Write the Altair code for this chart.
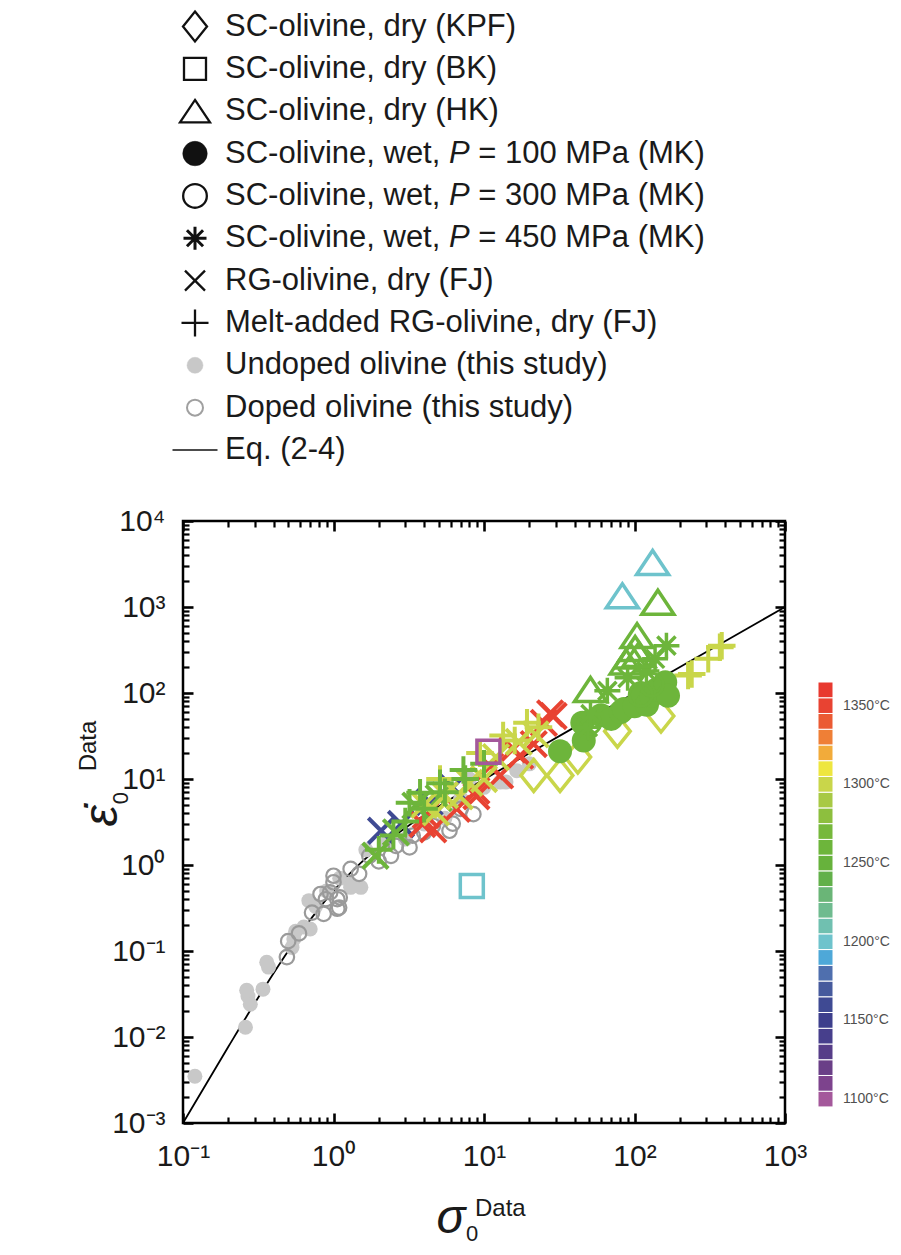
import altair as alt
import pandas as pd

# ---------------- data ----------------
# Eq. (2-4) curve
eq_sigma = [0.1, 0.2, 0.3, 0.5, 0.7, 1.0, 1.5, 2.0, 3.0, 5.0, 10.0, 20.0, 50.0, 100.0, 1000.0]
eq_rate = [0.001, 0.0077, 0.0248, 0.10, 0.23, 0.50, 1.04, 1.6, 2.7, 4.8, 9.9, 19.95, 49.98, 100.0, 1000.0]

# Undoped olivine (this study), filled grey
undoped_x = [0.12, 0.26, 0.27, 0.28, 0.265, 0.34, 0.36, 0.37, 0.53, 0.545, 0.56, 0.635, 0.70, 0.686,
             0.76, 0.9, 1.1, 1.3, 1.3, 1.52, 1.64, 2.25, 3.0, 4.0, 5.5, 7.0, 8.0, 10.0, 12.8, 14.0, 16.5, 20.0]
undoped_y = [0.0035, 0.013, 0.030, 0.024, 0.035, 0.036, 0.074, 0.065, 0.11, 0.138, 0.17, 0.19, 0.18, 0.385,
             0.33, 0.5, 0.7, 0.6, 0.55, 0.55, 1.5, 1.8, 2.0, 3.0, 3.5, 6.0, 10.0, 8.0, 9.2, 9.2, 12.5, 15.0]

# Doped olivine (this study), open grey
doped_x = [0.49, 0.5, 0.59, 0.72, 0.86, 0.82, 1.06, 1.1, 0.95, 1.0, 0.89, 1.06, 1.0, 1.09, 1.48, 1.3,
           1.73, 2.0, 2.41, 2.6, 3.2, 3.36, 4.0, 4.58, 5.9, 6.2, 7.0, 8.5]
doped_y = [0.085, 0.13, 0.16, 0.28, 0.27, 0.46, 0.31, 0.42, 0.48, 0.63, 0.40, 0.40, 0.75, 0.32, 0.79, 0.9,
           1.28, 1.1, 1.28, 1.67, 1.6, 2.2, 2.4, 2.86, 2.5, 3.03, 4.5, 3.9]

# RG-olivine, dry (FJ)  x-crosses
fj_x = [2.07, 2.81, 4.35, 6.2,
        3.9, 4.6, 4.1, 6.6, 8.9, 8.9, 11.0, 12.8, 15.5, 17.4, 21.4, 25.0, 27.5, 29.0,
        1.9, 2.6, 3.5, 5.0,
        4.8, 6.9, 10.0, 4.0, 5.5, 8.0, 12.0, 17.0, 22.0]
fj_y = [2.5, 3.0, 5.4, 8.0,
        3.0, 2.6, 3.8, 4.5, 6.3, 7.3, 14.0, 11.0, 22.0, 18.7, 25.5, 45.0, 58.0, 54.0,
        1.28, 2.4, 4.9, 6.0,
        4.1, 6.3, 10.0, 5.0, 6.5, 9.0, 18.0, 27.0, 33.0]
fj_t = [1160, 1160, 1160, 1160,
        1350, 1350, 1350, 1350, 1350, 1350, 1350, 1350, 1350, 1350, 1350, 1350, 1350, 1350,
        1260, 1260, 1260, 1260,
        1300, 1300, 1300, 1300, 1300, 1300, 1300, 1300, 1300]

# Melt-added RG-olivine, dry (FJ)  plus signs
fjm_x = [5.1, 9.4, 13.4, 16.0, 19.3, 23.0, 227.0, 240.0, 309.0, 369.0, 380.0,
         2.0, 2.5, 3.0, 4.0, 5.5, 7.5, 10.0, 3.76, 5.1, 7.3, 3.2]
fjm_y = [10.0, 20.0, 32.0, 28.0, 45.0, 40.0, 160.0, 166.0, 250.0, 340.0, 355.0,
         1.5, 2.2, 3.2, 4.5, 7.0, 10.0, 15.0, 6.9, 8.9, 12.7, 5.3]
fjm_t = [1300, 1300, 1300, 1300, 1300, 1300, 1300, 1300, 1300, 1300, 1300,
         1260, 1260, 1260, 1260, 1260, 1260, 1260, 1260, 1260, 1260, 1260]

# SC-olivine, dry (KPF) diamonds
kpf_x = [21.4, 32.0, 42.0, 77.0, 150.0]
kpf_y = [11.0, 11.0, 18.0, 36.0, 54.0]
kpf_t = [1300, 1300, 1300, 1300, 1300]

# SC-olivine, dry (BK) squares
bk_x = [8.3, 10.7]
bk_y = [0.57, 20.8]
bk_t = [1200, 1100]

# SC-olivine, dry (HK) triangles
hk_x = [132.0, 83.0, 143.0, 104.0, 101.0, 94.0, 107.0, 51.0, 88.0]
hk_y = [3300.0, 1350.0, 1135.0, 465.0, 330.0, 270.0, 280.0, 110.0, 230.0]
hk_t = [1200, 1200, 1260, 1260, 1260, 1260, 1260, 1260, 1260]

# SC-olivine, wet, P = 100 MPa (MK) filled circles
mk1_x = [32.0, 46.0, 45.0, 60.0, 70.0, 81.0, 85.0, 100.0, 110.0, 121.0, 129.0, 140.0, 160.0, 167.0]
mk1_y = [21.0, 28.0, 45.0, 55.0, 50.0, 60.0, 65.0, 70.0, 100.0, 73.0, 93.0, 110.0, 133.0, 93.0]
mk1_t = [1260] * 14

# SC-olivine, wet, P = 300 MPa (MK) open circles
mk3_x = [50.0, 110.0, 130.0]
mk3_y = [45.0, 95.0, 125.0]
mk3_t = [1260, 1260, 1260]

# SC-olivine, wet, P = 450 MPa (MK) asterisks
mk4_x = [49.0, 51.0, 66.0, 90.0, 120.0, 137.0, 163.0]
mk4_y = [40.0, 57.0, 106.0, 150.0, 180.0, 250.0, 355.0]
mk4_t = [1260] * 7

# temperature colour bar (bottom to top)
temps = [1100, 1110, 1120, 1130, 1140, 1150, 1160, 1170, 1180, 1190, 1200, 1210, 1220, 1230,
         1240, 1250, 1260, 1270, 1280, 1290, 1300, 1310, 1320, 1330, 1340, 1350, 1360]
temp_colors = ["#a4589b", "#7d438d", "#6a3f87", "#563d88", "#473f8c", "#3d3f8c", "#3f4a93",
               "#465a9d", "#4f6fae", "#4ea8d8", "#6ec3cc", "#70c0b0", "#6fbb8f", "#6ab577",
               "#62b04a", "#67b23c", "#6db53b", "#76b83b", "#8dbf3e", "#a8c944", "#c9d64a",
               "#eee63f", "#f2ab3a", "#ef7f36", "#eb5a33", "#e84332", "#e8392f"]
temp_labels = [1100, 1150, 1200, 1250, 1300, 1350]

# axis ticks
x_major = [0.1, 1, 10, 100, 1000]
x_minor = [m * d for d in [0.1, 1, 10, 100] for m in range(2, 10)]
y_major = [0.001, 0.01, 0.1, 1, 10, 100, 1000, 10000]
y_minor = [m * d for d in [0.001, 0.01, 0.1, 1, 10, 100, 1000] for m in range(2, 10)]
x_tick_labels = ["10⁻¹", "10⁰", "10¹", "10²", "10³"]
y_tick_labels = ["10⁻³", "10⁻²", "10⁻¹", "10⁰", "10¹", "10²", "10³", "10⁴"]

# legend
legend_names = ["KPF", "BK", "HK", "MK100", "MK300", "MK450", "FJ", "FJM", "UND", "DOP", "EQ"]
legend_main = ["SC-olivine, dry (KPF)", "SC-olivine, dry (BK)", "SC-olivine, dry (HK)",
               "SC-olivine, wet,", "SC-olivine, wet,", "SC-olivine, wet,",
               "RG-olivine, dry (FJ)", "Melt-added RG-olivine, dry (FJ)",
               "Undoped olivine (this study)", "Doped olivine (this study)", "Eq. (2-4)"]
legend_tail = ["", "", "", "= 100 MPa (MK)", "= 300 MPa (MK)", "= 450 MPa (MK)", "", "", "", "", ""]

x_title_parts = ["σ", "0", "Data"]
y_title_parts = ["ε̇", "0", "Data"]

# ---------------- styling ----------------
FONT = "Liberation Sans"
INK = "#1a1a1a"
W = 602
H = 602

P_DIAMOND = "M0,-1L0.8,0L0,1L-0.8,0Z"
P_TRI = "M0,-0.75L1,0.75L-1,0.75Z"
P_X = "M-1,-1L1,1M-1,1L1,-1"
P_PLUS = "M-1,0L1,0M0,-1L0,1"
P_AST = "M0,-1L0,1M-1,0L1,0M-0.7,-0.7L0.7,0.7M-0.7,0.7L0.7,-0.7"
P_LINE = "M-1,0L1,0"

xs = alt.Scale(type="log", domain=[0.1, 1000], nice=False)
ys = alt.Scale(type="log", domain=[0.001, 10000], nice=False)
tscale = alt.Scale(domain=temps, range=temp_colors)


def df3(x, y, t):
    return pd.DataFrame({"x": x, "y": y, "T": t})


def X():
    return alt.X("x:Q", scale=xs, axis=None)


def Y():
    return alt.Y("y:Q", scale=ys, axis=None)


eq_df = pd.DataFrame({"x": eq_sigma, "y": eq_rate})

line = alt.Chart(eq_df).mark_line(color="black", strokeWidth=1.8, interpolate="monotone").encode(x=X(), y=Y())

und = alt.Chart(pd.DataFrame({"x": undoped_x, "y": undoped_y})).mark_circle(
    color="#c8c8c8", size=225, opacity=1).encode(x=X(), y=Y())

dop = alt.Chart(pd.DataFrame({"x": doped_x, "y": doped_y})).mark_point(
    shape="circle", filled=False, stroke="#9a9a9a", strokeWidth=2.2, size=210, opacity=1).encode(x=X(), y=Y())


def open_layer(x, y, t, shape, size, sw):
    return alt.Chart(df3(x, y, t)).mark_point(
        shape=shape, size=size, filled=False, strokeWidth=sw, opacity=1, fill="transparent").encode(
        x=X(), y=Y(), stroke=alt.Stroke("T:O", scale=tscale, legend=None))


fj = open_layer(fj_x, fj_y, fj_t, P_X, 650, 4)
fjm = open_layer(fjm_x, fjm_y, fjm_t, P_PLUS, 760, 4)
kpf = open_layer(kpf_x, kpf_y, kpf_t, P_DIAMOND, 1024, 3.5)
mk3 = open_layer(mk3_x, mk3_y, mk3_t, "circle", 529, 3)
mk4 = open_layer(mk4_x, mk4_y, mk4_t, P_AST, 676, 3.5)
hk = open_layer(hk_x, hk_y, hk_t, P_TRI, 1024, 3.5)
bk = open_layer(bk_x, bk_y, bk_t, "square", 529, 3.5)

mk1 = alt.Chart(df3(mk1_x, mk1_y, mk1_t)).mark_point(
    shape="circle", size=576, filled=True, opacity=1, strokeWidth=0).encode(
    x=X(), y=Y(), fill=alt.Fill("T:O", scale=tscale, legend=None))

# ---------------- axes (ticks pointing inwards on all four sides) ----------------
x_lab = "[" + ",".join("'%s'" % s for s in x_tick_labels) + "][round(log(datum.value)/LN10)+1]"
y_lab = "[" + ",".join("'%s'" % s for s in y_tick_labels) + "][round(log(datum.value)/LN10)+3]"


def ax(orient, values, size, labels, expr=None):
    kw = dict(orient=orient, values=values, tickSize=size, offset=-size, domain=False, grid=False,
              ticks=True, tickColor="black", tickWidth=2.6 if size > 8 else 2.2, title=None,
              labels=labels)
    if labels:
        kw.update(labelExpr=expr, labelFontSize=30, labelFont=FONT, labelColor=INK,
                  labelPadding=18, labelFlush=False, labelOverlap=False)
    return alt.Axis(**kw)


def carrier(xa, ya):
    return alt.Chart(eq_df).mark_point(opacity=0).encode(
        x=alt.X("x:Q", scale=xs, axis=xa), y=alt.Y("y:Q", scale=ys, axis=ya))


axA = carrier(ax("bottom", x_major, 10, True, x_lab), ax("left", y_major, 10, True, y_lab))
axB = carrier(ax("bottom", x_minor, 6, False), ax("left", y_minor, 6, False))
axC = carrier(ax("top", x_major, 10, False), ax("right", y_major, 10, False))
axD = carrier(ax("top", x_minor, 6, False), ax("right", y_minor, 6, False))

# ---------------- legend (above the plot) ----------------
leg_df = pd.DataFrame({"name": legend_names, "main": legend_main, "tail": legend_tail})
leg_y = alt.Y("name:N", scale=alt.Scale(type="point", domain=legend_names, range=[-494.5, -71], padding=0),
              axis=None)

# one symbol per legend row: (name, shape, size, fill, stroke, strokeWidth)
leg_specs = [
    ("KPF", P_DIAMOND, 900, "transparent", "#111111", 2.3),
    ("BK", "square", 484, "transparent", "#111111", 2.3),
    ("HK", P_TRI, 900, "transparent", "#111111", 2.3),
    ("MK100", "circle", 600, "#111111", "#111111", 0.5),
    ("MK300", "circle", 560, "transparent", "#111111", 2.3),
    ("MK450", P_AST, 529, "transparent", "#111111", 3.0),
    ("FJ", P_X, 400, "transparent", "#111111", 2.3),
    ("FJM", P_PLUS, 729, "transparent", "#111111", 2.3),
    ("UND", "circle", 256, "#c8c8c8", "#c8c8c8", 0.5),
    ("DOP", "circle", 256, "transparent", "#a0a0a0", 2.0),
    ("EQ", P_LINE, 2025, "transparent", "#111111", 1.6),
]
leg_syms = []
for nm, shp, sz, fl, st, sw in leg_specs:
    leg_syms.append(
        alt.Chart(leg_df).transform_filter(alt.datum.name == nm).mark_point(
            shape=shp, size=sz, fill=fl, stroke=st, strokeWidth=sw, opacity=1, filled=False).encode(
            x=alt.value(12), y=leg_y))

LFS = 31
leg_txt = alt.Chart(leg_df).mark_text(align="left", baseline="middle", fontSize=LFS, font=FONT,
                                      color=INK).encode(x=alt.value(42), y=leg_y, text="main:N")
leg_p = alt.Chart(leg_df).transform_filter("datum.tail != ''").mark_text(
    align="left", baseline="middle", fontSize=LFS, font=FONT, fontStyle="italic", color=INK).encode(
    x=alt.value(42 + 7.224 * LFS), y=leg_y, text=alt.value("P"))
leg_tail = alt.Chart(leg_df).transform_filter("datum.tail != ''").mark_text(
    align="left", baseline="middle", fontSize=LFS, font=FONT, color=INK).encode(
    x=alt.value(42 + 8.169 * LFS), y=leg_y, text="tail:N")

# ---------------- colour bar (right of the plot) ----------------
cb_df = pd.DataFrame({"T": temps})
cb_scale = alt.Scale(domain=[1084.8, 1467.3], nice=False, zero=False)
cbar = alt.Chart(cb_df).transform_calculate(lo="datum.T - 5", hi="datum.T + 5").mark_rect(
    stroke="white", strokeWidth=1).encode(
    x=alt.value(635), x2=alt.value(650),
    y=alt.Y("lo:Q", scale=cb_scale, axis=None), y2="hi:Q",
    fill=alt.Fill("T:O", scale=tscale, legend=None))
cb_lab = alt.Chart(pd.DataFrame({"T": temp_labels})).transform_calculate(
    lab="datum.T + '°C'").mark_text(align="left", baseline="middle", fontSize=14, font=FONT,
                                     color="#505050").encode(
    x=alt.value(660), y=alt.Y("T:Q", scale=cb_scale, axis=None), text="lab:N")

# ---------------- axis titles ----------------
xt = pd.DataFrame({"t": x_title_parts})
yt = pd.DataFrame({"t": y_title_parts})
xt0 = alt.Chart(xt).transform_filter("datum.t == 'σ'").mark_text(
    align="center", baseline="middle", fontSize=48, font=FONT, fontStyle="italic", color=INK).encode(
    x=alt.value(268), y=alt.value(698), text="t:N")
xt1 = alt.Chart(xt).transform_filter("datum.t == '0'").mark_text(
    align="left", baseline="middle", fontSize=22, font=FONT, color=INK).encode(
    x=alt.value(283), y=alt.value(713), text="t:N")
xt2 = alt.Chart(xt).transform_filter("datum.t == 'Data'").mark_text(
    align="left", baseline="middle", fontSize=24, font=FONT, color=INK).encode(
    x=alt.value(292), y=alt.value(688), text="t:N")
yt0 = alt.Chart(yt).transform_filter("datum.t != '0' && datum.t != 'Data'").mark_text(
    align="center", baseline="middle", fontSize=48, font=FONT, fontStyle="italic", angle=270,
    color=INK).encode(x=alt.value(-80), y=alt.value(295), text="t:N")
yt1 = alt.Chart(yt).transform_filter("datum.t == '0'").mark_text(
    align="center", baseline="middle", fontSize=22, font=FONT, angle=270, color=INK).encode(
    x=alt.value(-62), y=alt.value(277), text="t:N")
yt2 = alt.Chart(yt).transform_filter("datum.t == 'Data'").mark_text(
    align="center", baseline="middle", fontSize=24, font=FONT, angle=270, color=INK).encode(
    x=alt.value(-94), y=alt.value(225), text="t:N")

chart = alt.layer(
    line, und, dop, fj, fjm, kpf, mk1, mk3, mk4, hk, bk,
    axA, axB, axC, axD,
    *leg_syms, leg_txt, leg_p, leg_tail,
    cbar, cb_lab,
    xt0, xt1, xt2, yt0, yt1, yt2,
).resolve_scale(
    x="independent", y="independent", fill="independent", stroke="independent"
).properties(
    width=W, height=H,
    autosize=alt.AutoSizeParams(type="none"),
    padding={"left": 175, "top": 513, "right": 108, "bottom": 122},
).configure_view(stroke="black", strokeWidth=2.5)

chart.save("out.html", embed_options={"renderer": "svg", "actions": False})
